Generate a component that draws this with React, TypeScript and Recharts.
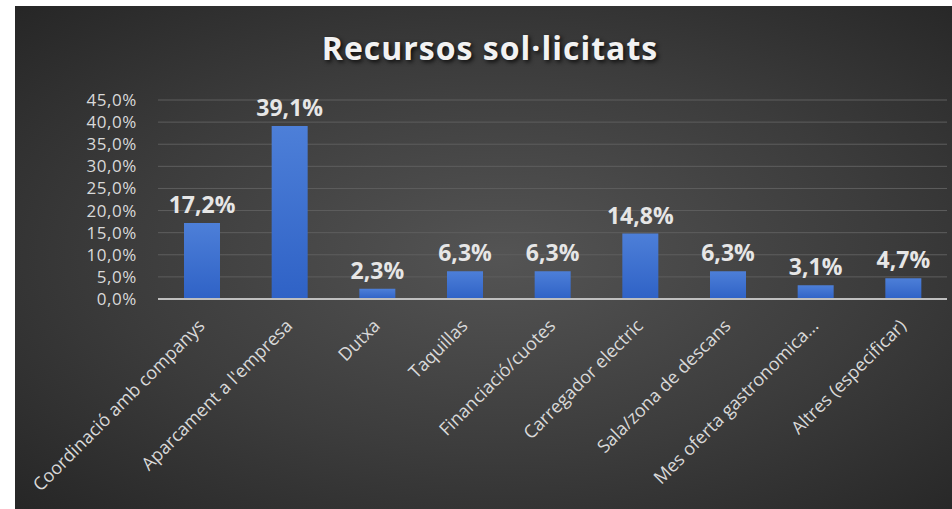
import { BarChart, Bar, XAxis, YAxis, CartesianGrid, LabelList } from 'recharts';

const categories = [
  'Coordinació amb companys',
  "Aparcament a l'empresa",
  'Dutxa',
  'Taquillas',
  'Financiació/cuotes',
  'Carregador electric',
  'Sala/zona de descans',
  'Mes oferta gastronomica...',
  'Altres (especificar)',
];
const values = [17.2, 39.1, 2.3, 6.3, 6.3, 14.8, 6.3, 3.1, 4.7];
const yTicks = [0, 5, 10, 15, 20, 25, 30, 35, 40, 45];

const data = categories.map((name, i) => ({ name, value: values[i] }));

const pct = (v: number) => v.toFixed(1).replace('.', ',') + '%';

const FONT = '"Open Sans", sans-serif';

function XTick(props: any) {
  const { x, y, payload } = props;
  const ax = x + 4;
  const ay = y + 20;
  return (
    <text
      x={ax}
      y={ay}
      transform={`rotate(-45, ${ax}, ${ay})`}
      textAnchor="end"
      fill="#d9d9d9"
      fontSize={18}
      fontFamily={FONT}
    >
      {payload.value}
    </text>
  );
}

export default function App() {
  return (
    <div style={{ position: 'absolute', left: 0, top: 0, width: 952, height: 509, background: '#fff' }}>
      <div
        style={{
          position: 'absolute',
          left: 15,
          top: 6,
          width: 937,
          height: 503,
          background: 'radial-gradient(ellipse at 52% 50%, #545454 0%, #3c3c3c 55%, #262626 100%)',
        }}
      >
        <div
          style={{
            position: 'absolute',
            left: 0,
            width: 950,
            top: 20,
            textAlign: 'center',
            color: '#f2f2f2',
            fontFamily: FONT,
            fontWeight: 700,
            fontSize: 32,
            letterSpacing: 1,
            textShadow: '2px 2px 4px rgba(0,0,0,0.8)',
          }}
        >
          Recursos sol·licitats
        </div>
        <BarChart
          width={937}
          height={503}
          data={data}
          margin={{ top: 94, right: 5, left: 0, bottom: 0 }}
        >
          <defs>
            <linearGradient id="barFill" x1="0" y1="0" x2="0" y2="1">
              <stop offset="0%" stopColor="#4d7fd8" />
              <stop offset="100%" stopColor="#2f62c6" />
            </linearGradient>
          </defs>
          <CartesianGrid vertical={false} stroke="#5e5e5e" strokeWidth={1} />
          <XAxis
            dataKey="name"
            interval={0}
            height={210}
            tickLine={false}
            axisLine={{ stroke: '#bfbfbf', strokeWidth: 2 }}
            tick={<XTick />}
          />
          <YAxis
            width={143}
            domain={[0, 45]}
            ticks={yTicks}
            interval={0}
            tickFormatter={pct}
            tickLine={false}
            axisLine={false}
            tickSize={0}
            tickMargin={21}
            tick={{ fill: '#d9d9d9', fontSize: 17, fontFamily: FONT, letterSpacing: 0.6 }}
          />
          <Bar dataKey="value" fill="url(#barFill)" barSize={36} isAnimationActive={false}>
            <LabelList
              dataKey="value"
              position="top"
              offset={10}
              formatter={(v: any) => pct(Number(v))}
              fill="#e6e6e6"
              fontSize={23}
              fontWeight={700}
              fontFamily={FONT}
            />
          </Bar>
        </BarChart>
      </div>
    </div>
  );
}
